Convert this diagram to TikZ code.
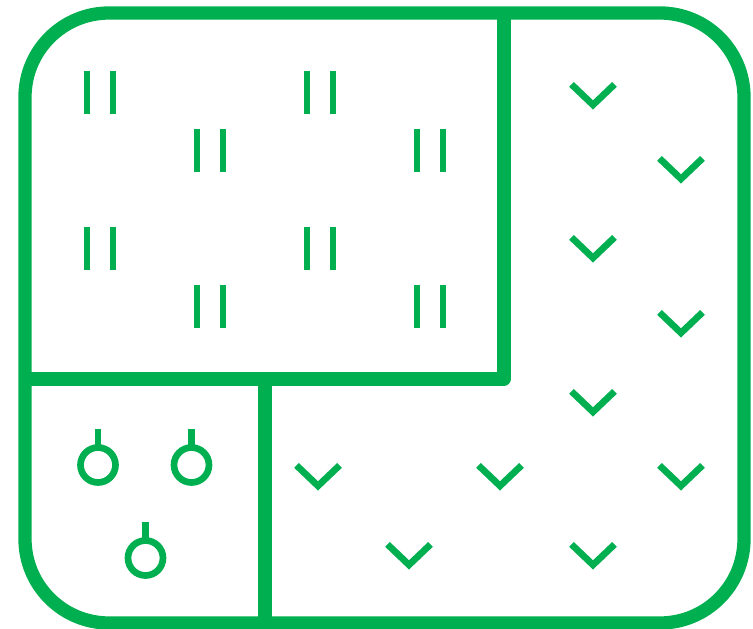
\documentclass[tikz,border=0pt]{standalone}
\definecolor{plangreen}{RGB}{0,176,80}
\begin{document}
\begin{tikzpicture}[x=1pt,y=-1pt,
  wall/.style={draw=plangreen,line width=13.3pt,line join=round},
  tallybar/.style={draw=plangreen,line width=6.7pt,line cap=butt},
  chev/.style={draw=plangreen,line width=6.7pt,line cap=butt,line join=miter},
  bulb/.style={draw=plangreen,line width=6.7pt,line cap=butt}]
\useasboundingbox (0,0) rectangle (753,629);
% outer boundary
\draw[wall,rounded corners=84pt] (25,13) rectangle (744,623);
% dividers
\draw[wall] (504,13) -- (504,379) -- (25,379);
\draw[wall] (265,379) -- (265,623);
% tally marks (pairs of bars)
\foreach \px/\py in {100/92,320/92,210/150,430/150,100/248,320/248,210/306,430/306}{
  \draw[tallybar] (\px-13,\py-21.5) -- (\px-13,\py+21.5);
  \draw[tallybar] (\px+13,\py-21.5) -- (\px+13,\py+21.5);
}
% chevrons (tx = centre x, ty = top of mark)
\foreach \tx/\ty in {593/82,681/156,593/235,681/310,593/389,681/463,318/463,500/463,409/542,593/542}{
  \draw[chev] (\tx-21.5,\ty+2.4) -- (\tx,\ty+22.9) -- (\tx+21.5,\ty+2.4);
}
% circles with stems
\foreach \cx/\cy in {98/465,191.5/465,145.5/558}{
  \draw[bulb] (\cx,\cy) circle[radius=17.5];
  \draw[bulb] (\cx,\cy-17.5) -- (\cx,\cy-36);
}
\end{tikzpicture}
\end{document}
